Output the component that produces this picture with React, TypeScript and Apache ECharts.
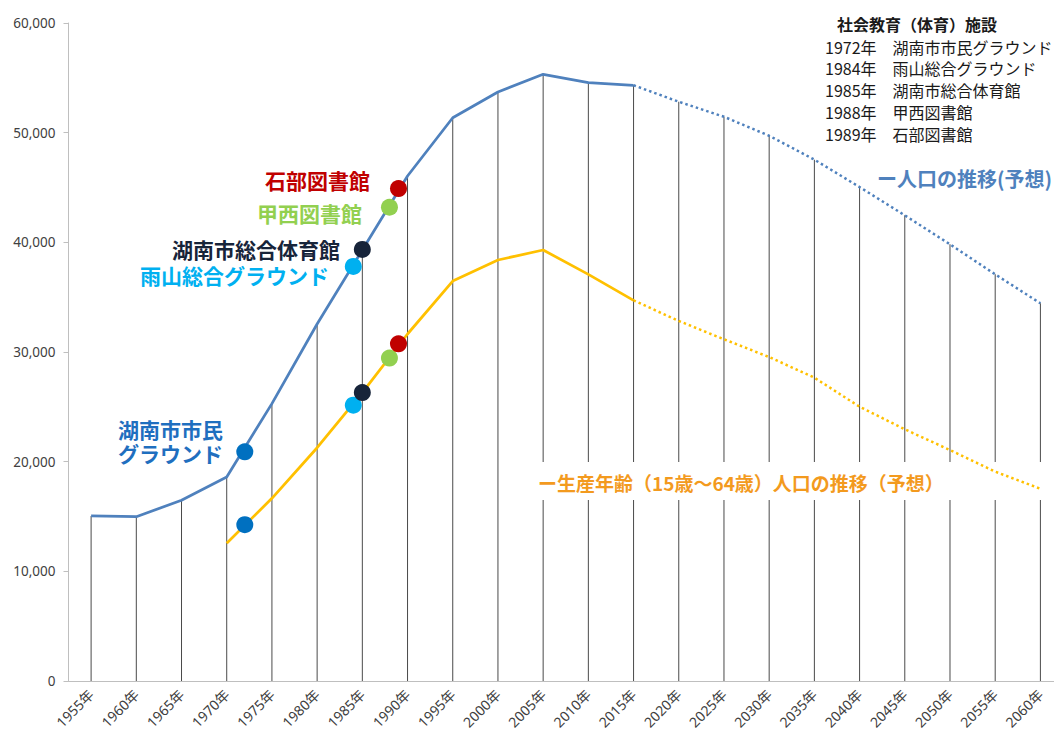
import React, { useEffect, useRef } from "react";
import * as echarts from "echarts";

// Census years (every 5 years) and the projected horizon
const years = [
  1955, 1960, 1965, 1970, 1975, 1980, 1985, 1990, 1995, 2000, 2005,
  2010, 2015, 2020, 2025, 2030, 2035, 2040, 2045, 2050, 2055, 2060,
];
const yearLabels = years.map((y) => `${y}年`);
const lastActualYear = 2015;

// Total population (people); values after 2015 are projections
const totalPopulation = [
  15050, 14980, 16480, 18600, 25290, 32550, 39300, 46050, 51360, 53710, 55320,
  54560, 54320, 52820, 51450, 49720, 47540, 45040, 42460, 39820, 37080, 34440,
];

// Working-age population (15–64); no figures before 1970
const workingAgePopulation = [
  null, null, null, 12560, 16660, 21270, 26300, 31640, 36470, 38390, 39300,
  37080, 34710, 32830, 31160, 29540, 27660, 25010, 22950, 21060, 19090, 17530,
];

// Social-education (sports) facilities and their opening years
const facilityYears = [1972, 1984, 1985, 1988, 1989];
const facilityNames = [
  "湖南市市民グラウンド",
  "雨山総合グラウンド",
  "湖南市総合体育館",
  "甲西図書館",
  "石部図書館",
];
const totalAtOpening = [20900, 37800, 39350, 43200, 44900];
const workingAtOpening = [14250, 25150, 26300, 29450, 30750];

const yTicks = [0, 10000, 20000, 30000, 40000, 50000, 60000];

const facilityColors = ["#0070c0", "#00b0f0", "#17243a", "#92d050", "#c00000"];
const BLUE = "#4f81bd";
const YELLOW = "#ffc000";
const JP = "'Noto Sans CJK JP', sans-serif";
const LATIN = "'Noto Sans', 'Noto Sans CJK JP', sans-serif";

// The plot runs a little past the right edge of the visible page
const VIEW_W = 1054;
const VIEW_H = 733;
const CHART_W = 1063;

const splitActual = (arr: (number | null)[]) =>
  arr.map((v, i) => (years[i] <= lastActualYear ? v : null));
const splitProjected = (arr: (number | null)[]) =>
  arr.map((v, i) => (years[i] >= lastActualYear ? v : null));

function label(
  text: string,
  x: number,
  y: number,
  color: string,
  opts: { size?: number; bold?: boolean; align?: string; lineHeight?: number } = {}
) {
  const size = opts.size ?? 21;
  return {
    type: "text",
    x,
    y,
    z: 6,
    silent: true,
    style: {
      text,
      fill: color,
      fontSize: size,
      lineHeight: opts.lineHeight ?? size + 1,
      fontWeight: opts.bold === false ? "normal" : "bold",
      fontFamily: JP,
      align: opts.align ?? "right",
      verticalAlign: "middle",
    },
  };
}

export default function App() {
  const ref = useRef<HTMLDivElement>(null);

  useEffect(() => {
    if (!ref.current) return;
    const chart = echarts.init(ref.current, null, { renderer: "svg" });

    const lineStyleSolid = (color: string) => ({ color, width: 2.75 });
    const lineStyleDotted = (color: string) => ({
      color,
      width: 2.5,
      type: [2.5, 3] as number[],
    });

    const facilityList = facilityYears.map((y, i) =>
      label(`${y}年　${facilityNames[i]}`, 825, 46.5 + i * 21.9, "#1a1a1a", {
        size: 16,
        bold: false,
        align: "left",
        lineHeight: 18,
      })
    );

    chart.setOption({
      animation: false,
      backgroundColor: "#ffffff",
      grid: {
        left: 68.5,
        right: 0,
        top: 23,
        bottom: 52,
        outerBoundsMode: "none",
        containLabel: false,
      },
      xAxis: [
        {
          type: "category",
          data: yearLabels,
          axisLine: { show: true, lineStyle: { color: "#bfbfbf", width: 1 } },
          axisTick: { show: false },
          splitLine: { show: false },
          axisLabel: {
            interval: 0,
            rotate: 45,
            margin: 11,
            fontSize: 14,
            color: "#404040",
            fontFamily: LATIN,
          },
        },
        {
          type: "value",
          min: 1952.5,
          max: 2062.5,
          show: false,
          splitLine: { show: false },
        },
      ],
      yAxis: {
        type: "value",
        min: yTicks[0],
        max: yTicks[yTicks.length - 1],
        interval: 10000,
        axisLine: { show: true, lineStyle: { color: "#bfbfbf", width: 1 } },
        axisTick: { show: true, length: 5, lineStyle: { color: "#bfbfbf" } },
        splitLine: { show: false },
        axisLabel: {
          margin: 13,
          fontSize: 13.5,
          color: "#404040",
          fontFamily: LATIN,
          formatter: (v: number) => v.toLocaleString("en-US"),
        },
      },
      series: [
        {
          // drop lines from the axis up to the total-population line
          type: "bar",
          data: totalPopulation,
          barWidth: 1,
          z: 1,
          silent: true,
          itemStyle: { color: "#4a4a4a" },
        },
        {
          type: "line",
          data: splitActual(totalPopulation),
          symbol: "none",
          z: 3,
          lineStyle: lineStyleSolid(BLUE),
        },
        {
          type: "line",
          data: splitProjected(totalPopulation),
          symbol: "none",
          z: 3,
          lineStyle: lineStyleDotted(BLUE),
        },
        {
          type: "line",
          data: splitActual(workingAgePopulation),
          symbol: "none",
          z: 3,
          lineStyle: lineStyleSolid(YELLOW),
        },
        {
          type: "line",
          data: splitProjected(workingAgePopulation),
          symbol: "none",
          z: 3,
          lineStyle: lineStyleDotted(YELLOW),
        },
        {
          type: "scatter",
          xAxisIndex: 1,
          symbolSize: 17,
          z: 4,
          data: facilityYears.map((y, i) => ({
            value: [y, totalAtOpening[i]],
            itemStyle: { color: facilityColors[i], opacity: 1 },
          })),
        },
        {
          type: "scatter",
          xAxisIndex: 1,
          symbolSize: 17,
          z: 4,
          data: facilityYears.map((y, i) => ({
            value: [y, workingAtOpening[i]],
            itemStyle: { color: facilityColors[i], opacity: 1 },
          })),
        },
      ],
      graphic: [
        {
          // white panel behind the working-age caption
          type: "rect",
          z: 2,
          silent: true,
          shape: { x: 532, y: 462, width: 540, height: 38 },
          style: { fill: "#ffffff" },
        },
        label("ー生産年齢（15歳～64歳）人口の推移（予想）", 538, 482, "#f39a1e", {
          size: 19,
          align: "left",
        }),
        label("ー人口の推移(予想)", 877, 178, BLUE, { size: 20, align: "left" }),
        label("石部図書館", 370, 180, facilityColors[4]),
        label("甲西図書館", 362, 212.5, facilityColors[3]),
        label("湖南市総合体育館", 340, 248.5, facilityColors[2], { lineHeight: 21 }),
        label("雨山総合グラウンド", 329, 274.5, facilityColors[1], { lineHeight: 21 }),
        label("湖南市市民\nグラウンド", 118, 441, "#1f6fbf", {
          align: "left",
          lineHeight: 24,
        }),
        label("社会教育（体育）施設", 837, 24, "#1a1a1a", { size: 16, align: "left" }),
        ...facilityList,
      ],
    });

    return () => chart.dispose();
  }, []);

  return (
    <div
      style={{
        position: "fixed",
        left: 0,
        top: 0,
        width: VIEW_W,
        height: VIEW_H,
        overflow: "hidden",
        background: "#fff",
      }}
    >
      <div ref={ref} style={{ width: CHART_W, height: VIEW_H }} />
    </div>
  );
}
